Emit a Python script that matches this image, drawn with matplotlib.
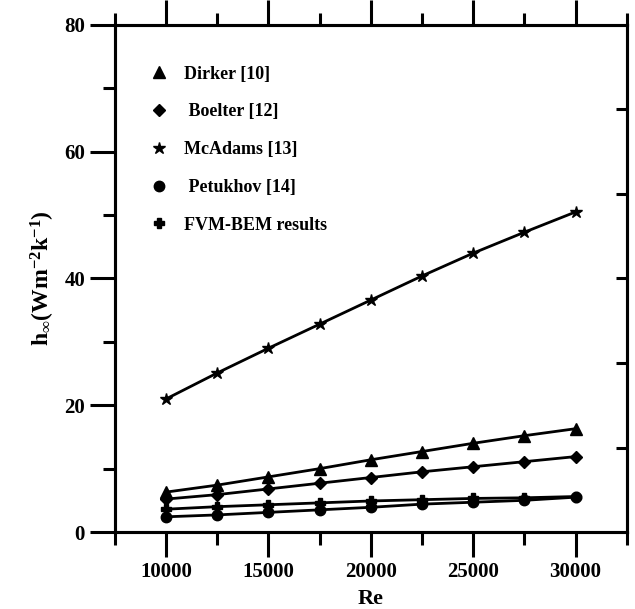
import numpy as np
import matplotlib
matplotlib.use('Agg')
import matplotlib.pyplot as plt
from matplotlib.ticker import MultipleLocator, FixedLocator

plt.rcParams['font.family'] = ['Liberation Serif', 'DejaVu Serif']
plt.rcParams['font.weight'] = 'bold'
plt.rcParams['mathtext.fontset'] = 'custom'
plt.rcParams['mathtext.rm'] = 'Liberation Serif:bold'
plt.rcParams['mathtext.it'] = 'Liberation Serif:bold'
plt.rcParams['mathtext.bf'] = 'Liberation Serif:bold'

# Reynolds numbers and heat transfer coefficient
re = [10000, 12500, 15000, 17500, 20000, 22500, 25000, 27500, 30000]
dirker = [6.3, 7.4, 8.7, 10.0, 11.4, 12.7, 14.0, 15.2, 16.3]
boelter = [5.2, 5.9, 6.8, 7.7, 8.6, 9.5, 10.3, 11.1, 11.9]
mcadams = [21.0, 25.1, 29.0, 32.8, 36.6, 40.4, 44.0, 47.3, 50.5]
petukhov = [2.4, 2.7, 3.1, 3.5, 3.9, 4.4, 4.7, 5.0, 5.5]
fvm_bem = [3.6, 4.0, 4.3, 4.6, 4.9, 5.1, 5.3, 5.4, 5.6]

fig = plt.figure(figsize=(6.35, 6.09), dpi=100)
ax = fig.add_axes([0.181, 0.1264, 0.806, 0.8326])

lw = 2.0
ax.plot(re, dirker, color='black', lw=lw, marker='^', ms=8, label='Dirker [10]')
ax.plot(re, boelter, color='black', lw=lw, marker='D', ms=6, label=' Boelter [12]')
ax.plot(re, mcadams, color='black', lw=lw, marker='*', ms=9, label='McAdams [13]')
ax.plot(re, petukhov, color='black', lw=lw, marker='o', ms=7.5, label=' Petukhov [14]')
ax.plot(re, fvm_bem, color='black', lw=lw, marker='P', ms=7, label='FVM-BEM results')

ax.set_xlim(7500, 32500)
ax.set_ylim(0, 80)
ax.xaxis.set_major_locator(MultipleLocator(5000))
ax.xaxis.set_minor_locator(FixedLocator([7500, 12500, 17500, 22500, 27500, 32500]))
ax.yaxis.set_major_locator(MultipleLocator(20))
ax.yaxis.set_minor_locator(MultipleLocator(10))

ax.tick_params(which='both', direction='out', width=2.2, top=True, right=False,
               labelsize=15)
ax.tick_params(which='major', length=18)
ax.tick_params(which='minor', length=9)
for s in ax.spines.values():
    s.set_linewidth(2.2)

ax.set_xlabel('Re', fontsize=16, fontweight='bold', labelpad=5)
ax.set_ylabel(r'h$_{\infty}$(Wm$^{-2}$k$^{-1}$)', fontsize=17, fontweight='bold', labelpad=5)

# right-hand axis with inward ticks only
ax2 = ax.twinx()
ax2.set_ylim(0, 6)
ax2.set_yticks([1, 2, 3, 4, 5])
ax2.tick_params(axis='y', direction='in', length=8, width=2.2, labelright=False)
for s in ax2.spines.values():
    s.set_linewidth(2.2)

leg = ax.legend(loc='upper left', bbox_to_anchor=(0.04, 0.952), frameon=False,
                handlelength=0.8, handletextpad=1.0, labelspacing=1.15,
                prop={'family': 'Liberation Serif', 'weight': 'bold', 'size': 13})
for h in leg.legend_handles:
    h.set_linestyle('none')

fig.savefig('out.png', dpi=100)
